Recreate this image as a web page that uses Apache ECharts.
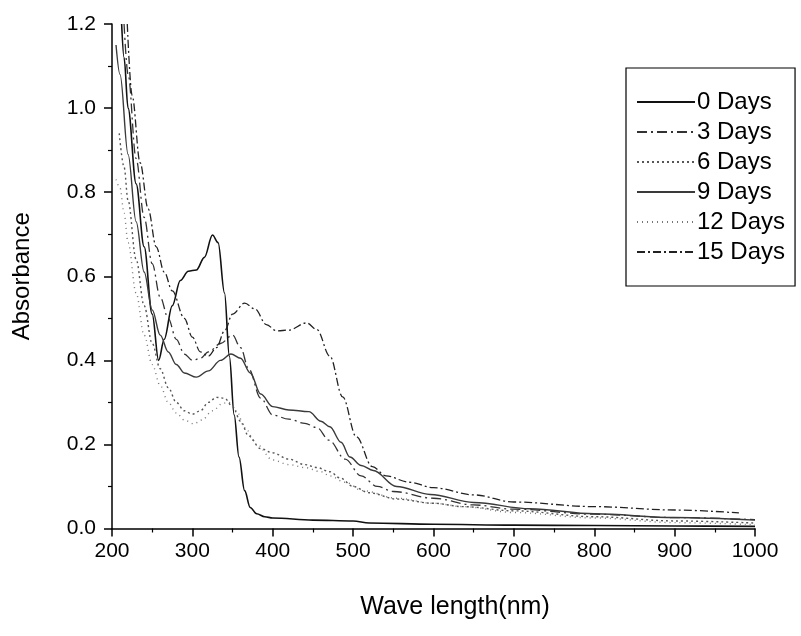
<!DOCTYPE html>
<html>
<head>
<meta charset="utf-8">
<script src="https://cdn.jsdelivr.net/npm/echarts@6/dist/echarts.min.js"></script>
<style>
html,body{margin:0;padding:0;background:#fff;}
#chart{width:801px;height:636px;}
</style>
</head>
<body>
<div id="chart"></div>
<script>
// ---- data ----
const seriesNames = ['0 Days','3 Days','6 Days','9 Days','12 Days','15 Days'];
const xTicks = [200,300,400,500,600,700,800,900,1000];
const yTicks = [0.0,0.2,0.4,0.6,0.8,1.0,1.2];

const wl0  = [212,215,220,230,240,250,258,265,275,285,295,305,315,325,332,340,346,352,358,365,372,380,390,400,450,500,520,600,700,800,900,1000];
const abs0 = [1.2,1.12,1.0,0.82,0.67,0.51,0.40,0.45,0.53,0.59,0.612,0.615,0.645,0.698,0.68,0.56,0.41,0.27,0.17,0.09,0.05,0.035,0.028,0.025,0.02,0.018,0.013,0.01,0.008,0.007,0.006,0.005];

const wl3  = [215,220,230,240,250,260,270,280,290,300,310,320,335,350,360,370,385,400,420,440,455,470,490,510,530,550,600,650,700,800,900,1000];
const abs3 = [1.2,1.08,0.88,0.74,0.63,0.55,0.50,0.45,0.415,0.40,0.405,0.42,0.44,0.46,0.43,0.38,0.31,0.27,0.26,0.25,0.24,0.21,0.165,0.125,0.10,0.088,0.072,0.056,0.046,0.034,0.026,0.021];

const wl6  = [209,215,220,230,240,250,260,270,280,290,300,310,320,330,340,350,360,370,385,400,420,440,455,471,484,500,520,554,600,637,700,800,900,1000];
const abs6 = [0.94,0.86,0.78,0.64,0.53,0.44,0.38,0.335,0.30,0.28,0.272,0.28,0.30,0.312,0.31,0.29,0.255,0.22,0.19,0.18,0.165,0.152,0.145,0.135,0.12,0.10,0.085,0.07,0.06,0.052,0.042,0.028,0.018,0.013];

const wl9  = [205,210,220,230,240,250,260,270,280,290,305,320,335,348,360,372,385,400,420,445,460,471,485,496,510,525,554,596,650,720,800,900,1000];
const abs9 = [1.15,1.08,0.89,0.73,0.61,0.52,0.46,0.42,0.39,0.37,0.36,0.375,0.40,0.415,0.405,0.37,0.32,0.29,0.282,0.278,0.255,0.242,0.205,0.17,0.15,0.138,0.10,0.081,0.062,0.047,0.035,0.026,0.02];

const wl12  = [205,210,215,220,230,240,250,260,270,280,290,302,312,325,338,345,355,365,380,400,420,440,460,471,490,512,554,600,637,700,800,900,1000];
const abs12 = [0.83,0.81,0.75,0.68,0.56,0.46,0.39,0.34,0.30,0.275,0.258,0.249,0.258,0.28,0.298,0.30,0.28,0.24,0.20,0.163,0.152,0.145,0.135,0.125,0.11,0.09,0.072,0.06,0.052,0.038,0.025,0.014,0.009];

const wl15  = [219,225,235,245,255,265,275,290,300,310,320,330,340,350,365,378,392,405,420,442,455,471,487,504,524,541,570,600,650,700,800,900,980];
const abs15 = [1.2,1.03,0.87,0.76,0.67,0.61,0.565,0.50,0.455,0.42,0.41,0.43,0.47,0.51,0.536,0.522,0.485,0.47,0.472,0.489,0.473,0.41,0.313,0.218,0.147,0.125,0.11,0.097,0.08,0.063,0.052,0.044,0.037];

const wls  = [wl0, wl3, wl6, wl9, wl12, wl15];
const absv = [abs0, abs3, abs6, abs9, abs12, abs15];

// ---- styles ----
const styles = [
  {color:'#111', width:1.6, type:'solid'},
  {color:'#333', width:1.3, type:[10,4,2,4]},
  {color:'#555', width:1.4, type:[2,3]},
  {color:'#3a3a3a', width:1.4, type:'solid'},
  {color:'#777', width:1.4, type:[1,4]},
  {color:'#222', width:1.3, type:[8,3,2,3]}
];

const series = seriesNames.map((name,i)=>({
  name: name,
  type: 'line',
  data: wls[i].map((x,j)=>[x, absv[i][j]]),
  symbol: 'none',
  smooth: 0.35,
  smoothMonotone: 'x',
  clip: true,
  lineStyle: styles[i],
  itemStyle: {color: styles[i].color},
  emphasis: {disabled: true}
}));

const chart = echarts.init(document.getElementById('chart'), null, {renderer:'canvas'});
const font = 'Liberation Sans, Arial, sans-serif';
chart.setOption({
  animation: false,
  backgroundColor: '#fff',
  grid: {left:112, right:46, top:24, bottom:107.5, containLabel:false},
  legend: {
    orient: 'vertical',
    left: 626, top: 68,
    padding: [22, 10, 22, 10],
    itemGap: 6,
    itemWidth: 58,
    itemHeight: 14,
    borderColor: '#000',
    borderWidth: 1.2,
    itemStyle: {opacity: 0},
    textStyle: {fontFamily: font, fontSize: 24, color:'#000', lineHeight: 24, padding:[0,0,0,-3]},
    data: seriesNames
  },
  xAxis: {
    type: 'value',
    min: xTicks[0], max: xTicks[xTicks.length-1], interval: 100,
    name: 'Wave length(nm)',
    nameLocation: 'middle',
    nameGap: 66,
    nameTextStyle: {fontFamily: font, fontSize: 25, color:'#000', padding:[0,0,0,43]},
    axisLine: {onZero:false, lineStyle:{color:'#000', width:1.5}},
    axisTick: {show:true, inside:false, length:8, lineStyle:{color:'#000', width:1.5}},
    minorTick: {show:true, splitNumber:2, length:4, lineStyle:{color:'#000', width:1.2}},
    axisLabel: {fontFamily: font, fontSize: 21, color:'#000', margin: 12, formatter: v => String(v)},
    splitLine: {show:false}
  },
  yAxis: {
    type: 'value',
    min: yTicks[0], max: yTicks[yTicks.length-1], interval: 0.2,
    name: 'Absorbance',
    nameLocation: 'middle',
    nameGap: 78,
    nameRotate: 90,
    nameTextStyle: {fontFamily: font, fontSize: 24, color:'#000'},
    axisLine: {show:true, onZero:false, lineStyle:{color:'#000', width:1.5}},
    axisTick: {show:true, inside:false, length:8, lineStyle:{color:'#000', width:1.5}},
    minorTick: {show:true, splitNumber:2, length:4, lineStyle:{color:'#000', width:1.2}},
    axisLabel: {fontFamily: font, fontSize: 21, color:'#000', margin: 16, formatter: v => v.toFixed(1)},
    splitLine: {show:false}
  },
  series: series
});
</script>
</body>
</html>
